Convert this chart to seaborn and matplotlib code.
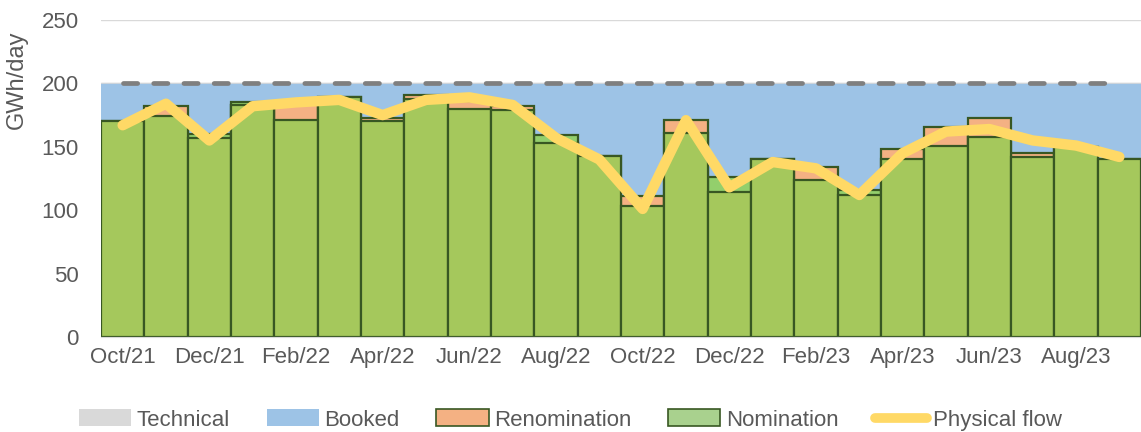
import numpy as np
import seaborn as sns
import matplotlib.pyplot as plt
from matplotlib.patches import Patch
from matplotlib.lines import Line2D

months = ['Oct/21', 'Nov/21', 'Dec/21', 'Jan/22', 'Feb/22', 'Mar/22', 'Apr/22', 'May/22',
          'Jun/22', 'Jul/22', 'Aug/22', 'Sep/22', 'Oct/22', 'Nov/22', 'Dec/22', 'Jan/23',
          'Feb/23', 'Mar/23', 'Apr/23', 'May/23', 'Jun/23', 'Jul/23', 'Aug/23', 'Sep/23']
technical = [200] * 24
booked = [200] * 24
nomination = [170, 174, 160, 185, 171, 189, 170, 188, 180, 179, 159, 143,
              103, 161, 126, 140, 124, 116, 140, 151, 158, 142, 150, 140]
renomination = [170, 182, 157, 183, 185, 189, 173, 191, 186, 182, 153, 143,
                111, 171, 114, 140, 134, 112, 148, 166, 173, 145, 150, 140]
physical_flow = [167, 184, 155, 182, 185, 187, 175, 187, 189, 183, 157, 140,
                 101, 171, 118, 138, 133, 112, 145, 162, 164, 155, 151, 142]

sns.set_style('white')
plt.rcParams['font.family'] = ['Liberation Sans', 'DejaVu Sans']

C_TECH = '#d9d9d9'
C_BOOK = '#9dc3e6'
C_RENOM = '#f4b183'
C_NOM = '#a5c85c'
C_NOM_LIGHT = '#93cf6c'
C_EDGE = '#385723'
C_FLOW = '#ffd966'
C_TEXT = '#595959'

fig = plt.figure(figsize=(11.41, 4.32), dpi=100)
ax = fig.add_axes([101 / 1141, 1 - 337 / 432, 1 - 101 / 1141, (337 - 20) / 432])

idx = np.arange(len(months))
xe = np.r_[-0.5, idx, len(months) - 0.5]

# areas behind the bars
ax.fill_between(xe, np.r_[technical[0], technical, technical[-1]], color=C_TECH, zorder=0.5)
ax.fill_between(xe, np.r_[booked[0], booked, booked[-1]] - 0.8, color=C_BOOK, zorder=0.6)

nom = np.array(nomination)
ren = np.array(renomination)
sns.barplot(x=months, y=ren, color=C_RENOM, width=1.0, saturation=1,
            edgecolor=C_EDGE, linewidth=1.6, ax=ax, zorder=2)
sns.barplot(x=months, y=np.where(nom > ren, nom, 0), color=C_NOM_LIGHT, width=1.0, saturation=1,
            edgecolor=C_EDGE, linewidth=1.6, ax=ax, zorder=2.1)
sns.barplot(x=months, y=np.minimum(nom, ren), color=C_NOM, width=1.0, saturation=1,
            edgecolor=C_EDGE, linewidth=1.6, ax=ax, zorder=2.2)

sns.lineplot(x=idx, y=technical, color='#7f7f7f', linewidth=3.4, ax=ax, zorder=3)
ax.lines[-1].set_dashes([3.0, 3.4])
ax.lines[-1].set_dash_capstyle('round')
sns.lineplot(x=idx, y=physical_flow, color=C_FLOW, linewidth=7.5, ax=ax, zorder=4)
ax.lines[-1].set_solid_capstyle('round')
ax.lines[-1].set_solid_joinstyle('round')

ax.set_xlim(-0.5, len(months) - 0.5)
ax.set_ylim(0, 250)
ax.set_yticks(range(0, 251, 50))
ax.set_xticks(idx[::2])
ax.set_xticklabels(months[::2])
ax.yaxis.grid(True, color=C_TECH, linewidth=1, zorder=0)
ax.set_axisbelow(True)
ax.set_xlabel('')
ax.set_ylabel('GWh/day', fontsize=17, color=C_TEXT)
ax.yaxis.set_label_coords(-0.07, 0.81)
ax.tick_params(axis='both', labelsize=16, colors=C_TEXT, length=0)
ax.tick_params(axis='y', pad=16)
ax.tick_params(axis='x', pad=7)
for s in ['left', 'right', 'top']:
    ax.spines[s].set_visible(False)
ax.spines['bottom'].set_color(C_TECH)

handles = [Patch(facecolor=C_TECH, edgecolor='none'),
           Patch(facecolor=C_BOOK, edgecolor='none'),
           Patch(facecolor=C_RENOM, edgecolor=C_EDGE, linewidth=1.2),
           Patch(facecolor='#a9d18e', edgecolor=C_EDGE, linewidth=1.2),
           Line2D([0], [0], color=C_FLOW, linewidth=7, solid_capstyle='round')]
labels = ['Technical', 'Booked', 'Renomination', 'Nomination', 'Physical flow']
leg = fig.legend(handles, labels, loc='center', bbox_to_anchor=(0.5, 1 - 420 / 432), ncol=5,
                 frameon=False, fontsize=16, handlelength=2.35, handleheight=0.8,
                 handletextpad=0.25, columnspacing=1.65)
for t in leg.get_texts():
    t.set_color(C_TEXT)

fig.savefig('out.png', dpi=100)
